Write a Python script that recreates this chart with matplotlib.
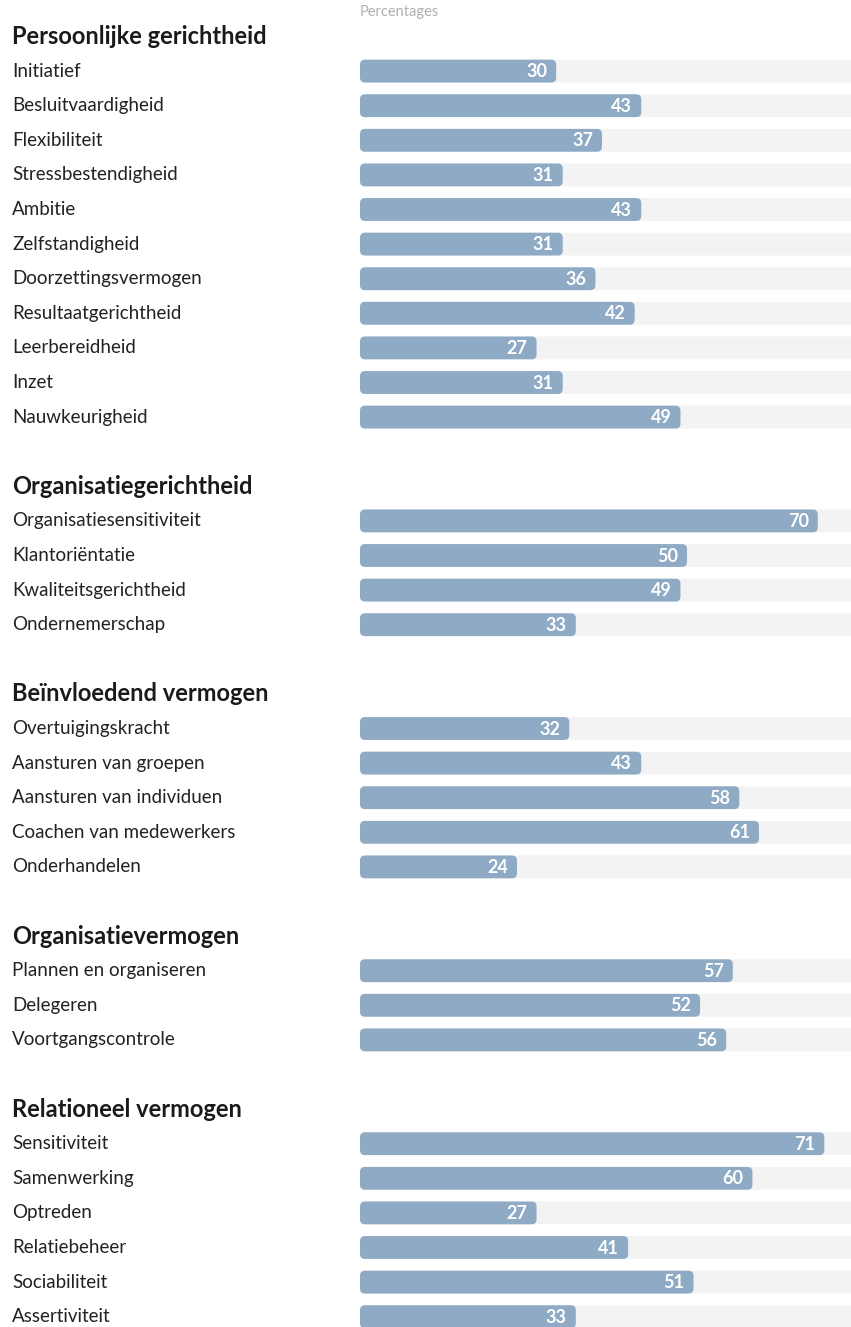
import matplotlib
matplotlib.use("Agg")
import matplotlib.pyplot as plt
from matplotlib.patches import FancyBboxPatch
import matplotlib.transforms as mtransforms

plt.rcParams['font.family'] = ['Lato', 'DejaVu Sans']

# Competence groups and scores (percentages)
group_titles = [
    "Persoonlijke gerichtheid",
    "Organisatiegerichtheid",
    "Beïnvloedend vermogen",
    "Organisatievermogen",
    "Relationeel vermogen",
]
persoonlijke_labels = ["Initiatief", "Besluitvaardigheid", "Flexibiliteit", "Stressbestendigheid",
                       "Ambitie", "Zelfstandigheid", "Doorzettingsvermogen", "Resultaatgerichtheid",
                       "Leerbereidheid", "Inzet", "Nauwkeurigheid"]
persoonlijke_values = [30, 43, 37, 31, 43, 31, 36, 42, 27, 31, 49]

organisatiegericht_labels = ["Organisatiesensitiviteit", "Klantoriëntatie",
                             "Kwaliteitsgerichtheid", "Ondernemerschap"]
organisatiegericht_values = [70, 50, 49, 33]

beinvloedend_labels = ["Overtuigingskracht", "Aansturen van groepen", "Aansturen van individuen",
                       "Coachen van medewerkers", "Onderhandelen"]
beinvloedend_values = [32, 43, 58, 61, 24]

organisatievermogen_labels = ["Plannen en organiseren", "Delegeren", "Voortgangscontrole"]
organisatievermogen_values = [57, 52, 56]

relationeel_labels = ["Sensitiviteit", "Samenwerking", "Optreden", "Relatiebeheer",
                      "Sociabiliteit", "Assertiviteit"]
relationeel_values = [71, 60, 27, 41, 51, 33]

groups = list(zip(group_titles,
                  [persoonlijke_labels, organisatiegericht_labels, beinvloedend_labels,
                   organisatievermogen_labels, relationeel_labels],
                  [persoonlijke_values, organisatiegericht_values, beinvloedend_values,
                   organisatievermogen_values, relationeel_values]))

W, H, DPI = 851, 1327, 100
fig = plt.figure(figsize=(W / DPI, H / DPI), dpi=DPI)
fig.patch.set_facecolor("white")

bar_left_px = 360
px_per_unit = 6.54
row_px = 34.6
first_row_px = 36.5

ax = fig.add_axes([bar_left_px / W, 0, 1 - bar_left_px / W, 1])
x_max = (W - bar_left_px) / px_per_unit
ax.set_xlim(0, x_max)
ax.set_ylim((H - first_row_px) / row_px, -first_row_px / row_px)
ax.axis("off")

BAR = "#8eaac4"
TRACK = "#f3f3f3"
bar_h = 0.66
# convert pixel rounding to data units on each axis
x_per_px = 1 / px_per_unit
y_per_px = 1 / row_px
aspect = y_per_px / x_per_px
radius = 5 * x_per_px

label_tr = mtransforms.blended_transform_factory(fig.transFigure, ax.transData)
label_x = 12 / W

slot = 0
for gi, (title, labels, values) in enumerate(groups):
    if gi > 0:
        slot += 1
    ax.text(label_x, slot, title, transform=label_tr, ha="left", va="center",
            fontsize=17, fontweight="bold", color="#1a1a1a")
    slot += 1
    for lab, val in zip(labels, values):
        ax.text(label_x, slot, lab, transform=label_tr, ha="left", va="center",
                fontsize=13.5, color="#222222")
        track = FancyBboxPatch((0, slot - bar_h / 2), 100, bar_h,
                               boxstyle=f"round,pad=0,rounding_size={radius}",
                               mutation_aspect=aspect, fc=TRACK, ec="none", zorder=1)
        ax.add_patch(track)
        bar = FancyBboxPatch((0, slot - bar_h / 2), val, bar_h,
                             boxstyle=f"round,pad=0,rounding_size={radius}",
                             mutation_aspect=aspect, fc=BAR, ec="none", zorder=2)
        ax.add_patch(bar)
        ax.text(val - 9 * x_per_px, slot + 0.02, f"{val}", ha="right", va="center",
                fontsize=13, fontweight="bold", color="white", zorder=3)
        slot += 1

fig.text(360 / W, 1 - 12 / H, "Percentages", ha="left", va="center",
         fontsize=10.5, color="#b0b0b0")

fig.savefig("out.png", dpi=DPI, facecolor="white")
